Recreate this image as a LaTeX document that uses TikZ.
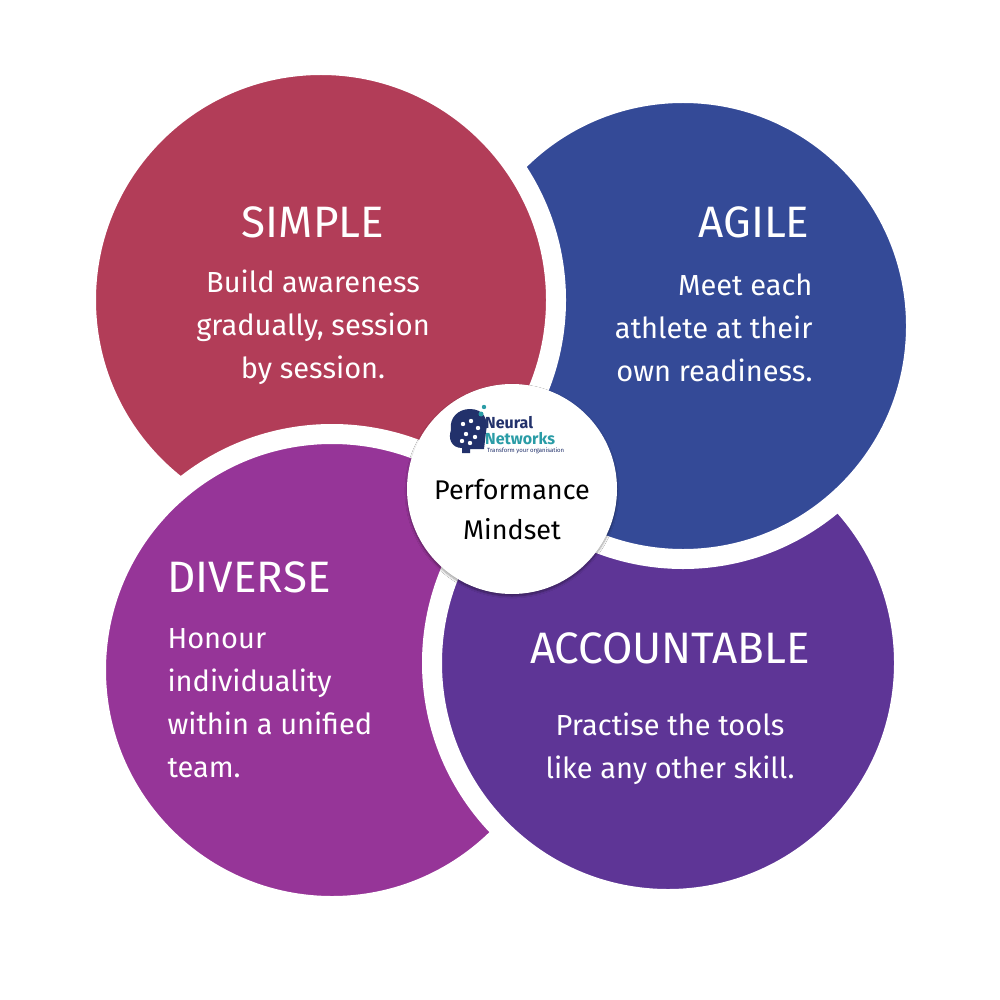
\documentclass[tikz,border=0pt]{standalone}
\usepackage{fontspec}
\setmainfont{Fira Sans}
\usetikzlibrary{shadows.blur}
\definecolor{cred}{HTML}{B23D58}
\definecolor{cblue}{HTML}{344A97}
\definecolor{cmag}{HTML}{963598}
\definecolor{cpur}{HTML}{5E3596}
\definecolor{navy}{HTML}{22316B}
\definecolor{teal}{HTML}{2A9CA6}
\begin{document}
\begin{tikzpicture}[x=1pt,y=-1pt,
  disk/.style={draw=white,line width=20pt},
  ttl/.style={text=white,font=\fontsize{44}{50}\selectfont},
  body/.style={text=white,font=\fontsize{29}{43}\selectfont},
  ]
\useasboundingbox (0,0) rectangle (1000,1000);
\fill[white] (0,0) rectangle (1000,1000);
\path[disk,fill=cmag] (332,670) circle (236);
\path[disk,fill=cpur] (668,663) circle (236);
\path[disk,fill=cblue] (683,326) circle (233);
\path[disk,fill=cred] (321,300) circle (235);
\begin{scope}
\clip (0,400) rectangle (430,560);
\path[disk,fill=cmag] (332,670) circle (236);
\end{scope}
\node[ttl] (t1) at (313,222) {SIMPLE};
\node[body,align=center] (b1) at (313,327) {Build awareness\\gradually, session\\by session.};
\node[ttl,anchor=east] (t2) at (813,222) {AGILE};
\node[body,align=right,anchor=east] (b2) at (816,328) {Meet each\\athlete at their\\own readiness.};
\node[ttl,anchor=west] (t3) at (164,577) {DIVERSE};
\node[body,align=left,anchor=west] (b3) at (164,703) {Honour\\individuality\\within a unified\\team.};
\node[ttl] (t4) at (670,648) {ACCOUNTABLE};
\node[body,align=center] (b4) at (670,749) {Practise the tools\\like any other skill.};
\node[circle,fill=white,minimum size=210pt,blur shadow={shadow blur steps=8,shadow xshift=0pt,shadow yshift=-2pt,shadow opacity=40}] (c) at (512,489) {};
\node[font=\fontsize{27}{40}\selectfont,align=center] (pm) at (512,510) {Performance\\Mindset};
\fill[navy] (462,448) .. controls (451,448) and (448,438) .. (451,430) .. controls (449,418) and (458,409) .. (470,409) .. controls (483,409) and (489,419) .. (486,432) -- (484,449) -- (470,449) -- (470,453) -- (462,453) -- cycle;
\foreach \p in {(463,424),(471,421),(478,428),(466,434),(475,437),(462,441),(470,443)} \fill[white] \p circle (2.2pt);
\fill[teal] (481,414) circle (2.5pt) (484,407) circle (2.2pt);
\node[anchor=west,inner sep=0,font=\fontsize{16}{16}\selectfont\bfseries,text=navy] (l1) at (485,423) {Neural};
\node[anchor=west,inner sep=0,font=\fontsize{16}{16}\selectfont\bfseries,text=teal] (l2) at (485,439) {Networks};
\node[anchor=west,inner sep=0,font=\fontsize{6}{6}\selectfont,text=navy] (l3) at (487,451) {Transform your organisation};
\end{tikzpicture}
\end{document}
